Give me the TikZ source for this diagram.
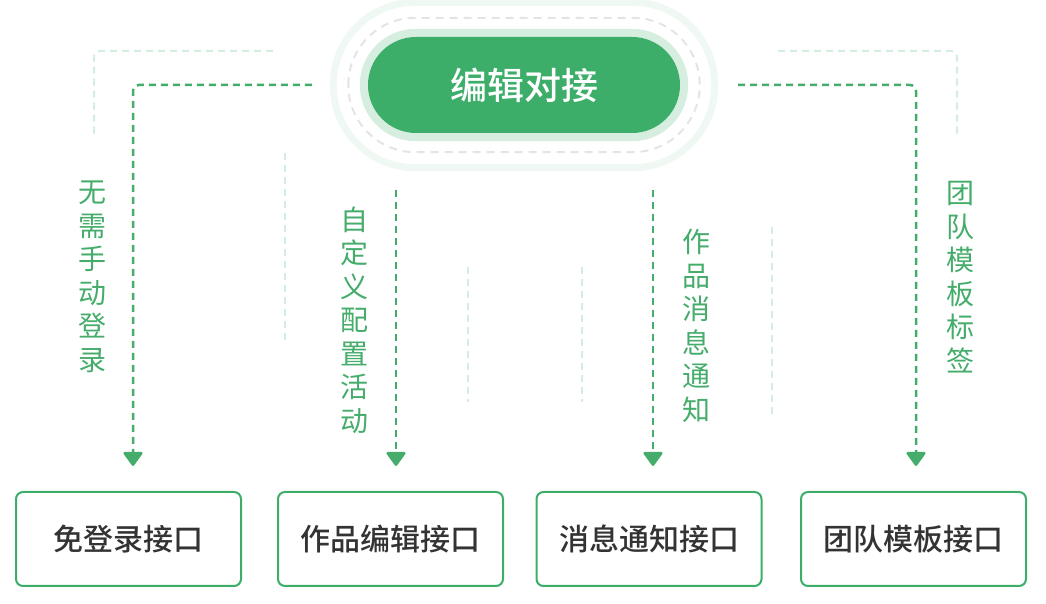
\documentclass[tikz,border=0pt]{standalone}
\usepackage{fontspec}
\newfontfamily\cjk{Noto Sans CJK SC}
\newfontfamily\cjkmd{Noto Sans CJK SC}[UprightFont=* Medium]
\usetikzlibrary{arrows.meta,calc,backgrounds}

\definecolor{hubgreen}{HTML}{3DAE6A}
\definecolor{ringlight}{HTML}{D6EEDF}
\definecolor{ringfaint}{HTML}{EFF8F3}
\definecolor{dashgray}{HTML}{E4E4E4}
\definecolor{linkgreen}{HTML}{45AC6B}
\definecolor{faintgreen}{HTML}{D4EEDD}
\definecolor{boxtext}{HTML}{333333}

\tikzset{
  hub/.style={fill=hubgreen,text=white,rounded corners=48pt,minimum width=312pt,
    minimum height=96pt,inner sep=0pt,font=\cjkmd\fontsize{37}{40}\selectfont},
  api/.style={draw=hubgreen,line width=2pt,fill=white,rounded corners=7pt,minimum width=225pt,
    minimum height=94pt,inner sep=0pt,text=boxtext,font=\cjkmd\fontsize{30}{34}\selectfont},
  tag/.style={text=linkgreen,align=center,inner sep=0pt,font=\cjk\fontsize{28}{33.5}\selectfont},
  link/.style={linkgreen,line width=2.5pt,dash pattern=on 7pt off 5pt,rounded corners=6pt,
    -{Triangle[width=21pt,length=15pt,round]}},
  faint/.style={faintgreen,line width=2pt,dash pattern=on 7pt off 5pt,rounded corners=6pt}
}

\begin{document}
\begin{tikzpicture}[x=1pt,y=1pt]
  \useasboundingbox (0,0) rectangle (1046,604);
  % centre pill
  \node[hub] (hub) at (524,519) {编辑对接};
  \begin{scope}[on background layer]
    \draw[ringfaint,line width=7pt,rounded corners=82pt]
      ([shift={(-34.5,-34.5)}]hub.south west) rectangle ([shift={(34.5,34.5)}]hub.north east);
    \draw[dashgray,line width=2pt,dash pattern=on 8pt off 6pt,rounded corners=67pt]
      ([shift={(-19.5,-19)}]hub.south west) rectangle ([shift={(19.5,19)}]hub.north east);
    \fill[ringlight,rounded corners=56pt]
      ([shift={(-8,-8)}]hub.south west) rectangle ([shift={(8,8)}]hub.north east);
  \end{scope}

  % interface boxes
  \node[api] (b1) at (128.5,65) {免登录接口};
  \node[api] (b2) at (390.5,65) {作品编辑接口};
  \node[api] (b3) at (649,65)   {消息通知接口};
  \node[api] (b4) at (913.5,65) {团队模板接口};

  % vertical labels
  \node[tag] (l1) at (92,327)  {无\\需\\手\\动\\登\\录};
  \node[tag] (l2) at (354,284) {自\\定\\义\\配\\置\\活\\动};
  \node[tag] (l3) at (696,278) {作\\品\\消\\息\\通\\知};
  \node[tag] (l4) at (960,327) {团\\队\\模\\板\\标\\签};

  % faint decoration lines
  \draw[faint] (273,553) -| (94,466);
  \draw[faint] (778,553) -| (957,466);
  \foreach \x/\ya/\yb in {285/451/262, 468/337/202, 582/337/202, 772/377/187}{%
    \draw[faint] (\x,\ya) -- (\x,\yb);
  }

  % links
  \coordinate (s1) at ([xshift=-56pt]hub.west);
  \coordinate (s2) at (396,414);
  \coordinate (s3) at (653,414);
  \coordinate (s4) at ([xshift=58pt]hub.east);
  \coordinate (t1) at ([xshift=4.5pt,yshift=25pt]b1.north);
  \coordinate (t2) at ([xshift=5.5pt,yshift=25pt]b2.north);
  \coordinate (t3) at ([xshift=4pt,yshift=25pt]b3.north);
  \coordinate (t4) at ([xshift=2.5pt,yshift=25pt]b4.north);
  \draw[link] (s1) -| (t1);
  \draw[link] (s2) -- (t2);
  \draw[link] (s3) -- (t3);
  \draw[link] (s4) -| (t4);
\end{tikzpicture}
\end{document}
